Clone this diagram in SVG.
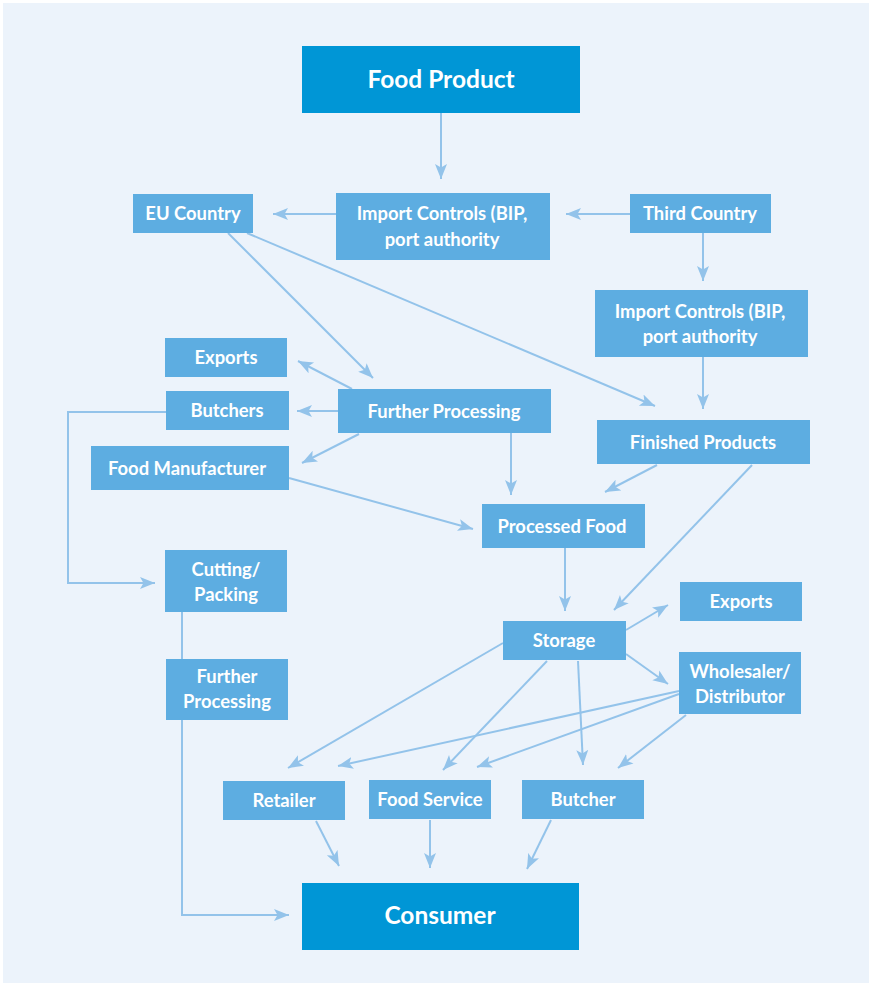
<svg xmlns="http://www.w3.org/2000/svg" width="872" height="986" viewBox="0 0 872 986">
<style>
.bg{fill:#ECF3FB}
.dk{fill:#0096D6}
.lt{fill:#5DADE1}
.t{font-family:Lato,"Open Sans","Liberation Sans",sans-serif;font-weight:bold;font-size:18.4px;fill:#FFFFFF;text-anchor:middle}
.tb{font-size:24.5px}
.c path{fill:none;stroke:#93C3EA;stroke-width:2}
</style>
<defs>
<marker id="ah" markerUnits="userSpaceOnUse" markerWidth="16" markerHeight="14" refX="15" refY="6.5" orient="auto" viewBox="0 0 16 14">
<path d="M0,0.5 L15,6.5 L0,12.5 L3.5,6.5 z" fill="#93C3EA"/>
</marker>
</defs>
<rect width="872" height="986" fill="#FFFFFF"/>
<rect class="bg" x="3" y="3" width="866" height="980"/>
<g class="c" id="connectors">
<path d="M441,113 L441,179" marker-end="url(#ah)"/>
<path d="M336,214 L273,214" marker-end="url(#ah)"/>
<path d="M630,214 L566,214" marker-end="url(#ah)"/>
<path d="M703,233 L703,281" marker-end="url(#ah)"/>
<path d="M228,233 L373,378" marker-end="url(#ah)"/>
<path d="M247,233 L655,406" marker-end="url(#ah)"/>
<path d="M703,357 L703,409" marker-end="url(#ah)"/>
<path d="M352,389 L298,361" marker-end="url(#ah)"/>
<path d="M338,411 L297,411" marker-end="url(#ah)"/>
<path d="M359,434 L302,463" marker-end="url(#ah)"/>
<path d="M511,433 L511,495" marker-end="url(#ah)"/>
<path d="M289,478 L473,529" marker-end="url(#ah)"/>
<path d="M166,412 L68,412 L68,583 L155,583" marker-end="url(#ah)"/>
<path d="M657,465 L605,492" marker-end="url(#ah)"/>
<path d="M752,465 L614,610" marker-end="url(#ah)"/>
<path d="M565,548 L565,611" marker-end="url(#ah)"/>
<path d="M626,630 L668,605" marker-end="url(#ah)"/>
<path d="M626,654 L668,684" marker-end="url(#ah)"/>
<path d="M503,643 L288,768" marker-end="url(#ah)"/>
<path d="M679,691 L338,766" marker-end="url(#ah)"/>
<path d="M547,661 L443,770" marker-end="url(#ah)"/>
<path d="M679,694 L477,767" marker-end="url(#ah)"/>
<path d="M578,661 L583,765" marker-end="url(#ah)"/>
<path d="M686,715 L618,768" marker-end="url(#ah)"/>
<path d="M316,821 L339,866" marker-end="url(#ah)"/>
<path d="M430,820 L430,868" marker-end="url(#ah)"/>
<path d="M551,820 L527,869" marker-end="url(#ah)"/>
<path d="M182,612 L182,915 L289,915" marker-end="url(#ah)"/>
</g>
<g id="food-product"><rect class="dk" x="302" y="46" width="278" height="67"/><text class="t tb" x="441" y="88">Food Product</text></g>
<g id="eu-country"><rect class="lt" x="133" y="194" width="120" height="39"/><text class="t" x="193" y="220">EU Country</text></g>
<g id="import-controls-1"><rect class="lt" x="336" y="193" width="214" height="67"/><text class="t" x="442" y="220">Import Controls (BIP,</text><text class="t" x="442" y="246">port authority</text></g>
<g id="third-country"><rect class="lt" x="630" y="194" width="141" height="39"/><text class="t" x="700" y="220">Third Country</text></g>
<g id="import-controls-2"><rect class="lt" x="595" y="290" width="213" height="67"/><text class="t" x="700" y="318">Import Controls (BIP,</text><text class="t" x="700" y="343">port authority</text></g>
<g id="exports-left"><rect class="lt" x="165" y="338" width="122" height="39"/><text class="t" x="226" y="364">Exports</text></g>
<g id="butchers"><rect class="lt" x="166" y="391" width="123" height="39"/><text class="t" x="227" y="417">Butchers</text></g>
<g id="further-processing"><rect class="lt" x="338" y="389" width="213" height="44"/><text class="t" x="444" y="418">Further Processing</text></g>
<g id="food-manufacturer"><rect class="lt" x="91" y="446" width="198" height="44"/><text class="t" x="187" y="475">Food Manufacturer</text></g>
<g id="finished-products"><rect class="lt" x="597" y="420" width="213" height="44"/><text class="t" x="703" y="449">Finished Products</text></g>
<g id="processed-food"><rect class="lt" x="482" y="504" width="163" height="44"/><text class="t" x="562" y="533">Processed Food</text></g>
<g id="cutting-packing"><rect class="lt" x="165" y="550" width="122" height="62"/><text class="t" x="226" y="576">Cutting/</text><text class="t" x="226" y="601">Packing</text></g>
<g id="further-processing-2"><rect class="lt" x="166" y="659" width="122" height="61"/><text class="t" x="227" y="683">Further</text><text class="t" x="227" y="708">Processing</text></g>
<g id="exports-right"><rect class="lt" x="680" y="582" width="122" height="39"/><text class="t" x="741" y="608">Exports</text></g>
<g id="storage"><rect class="lt" x="503" y="621" width="123" height="39"/><text class="t" x="564" y="647">Storage</text></g>
<g id="wholesaler"><rect class="lt" x="679" y="652" width="122" height="62"/><text class="t" x="740" y="678">Wholesaler/</text><text class="t" x="740" y="703">Distributor</text></g>
<g id="retailer"><rect class="lt" x="223" y="781" width="122" height="39"/><text class="t" x="284" y="807">Retailer</text></g>
<g id="food-service"><rect class="lt" x="369" y="780" width="122" height="39"/><text class="t" x="430" y="806">Food Service</text></g>
<g id="butcher"><rect class="lt" x="522" y="780" width="122" height="39"/><text class="t" x="583" y="806">Butcher</text></g>
<g id="consumer"><rect class="dk" x="302" y="883" width="277" height="67"/><text class="t tb" x="440" y="924">Consumer</text></g>
</svg>
